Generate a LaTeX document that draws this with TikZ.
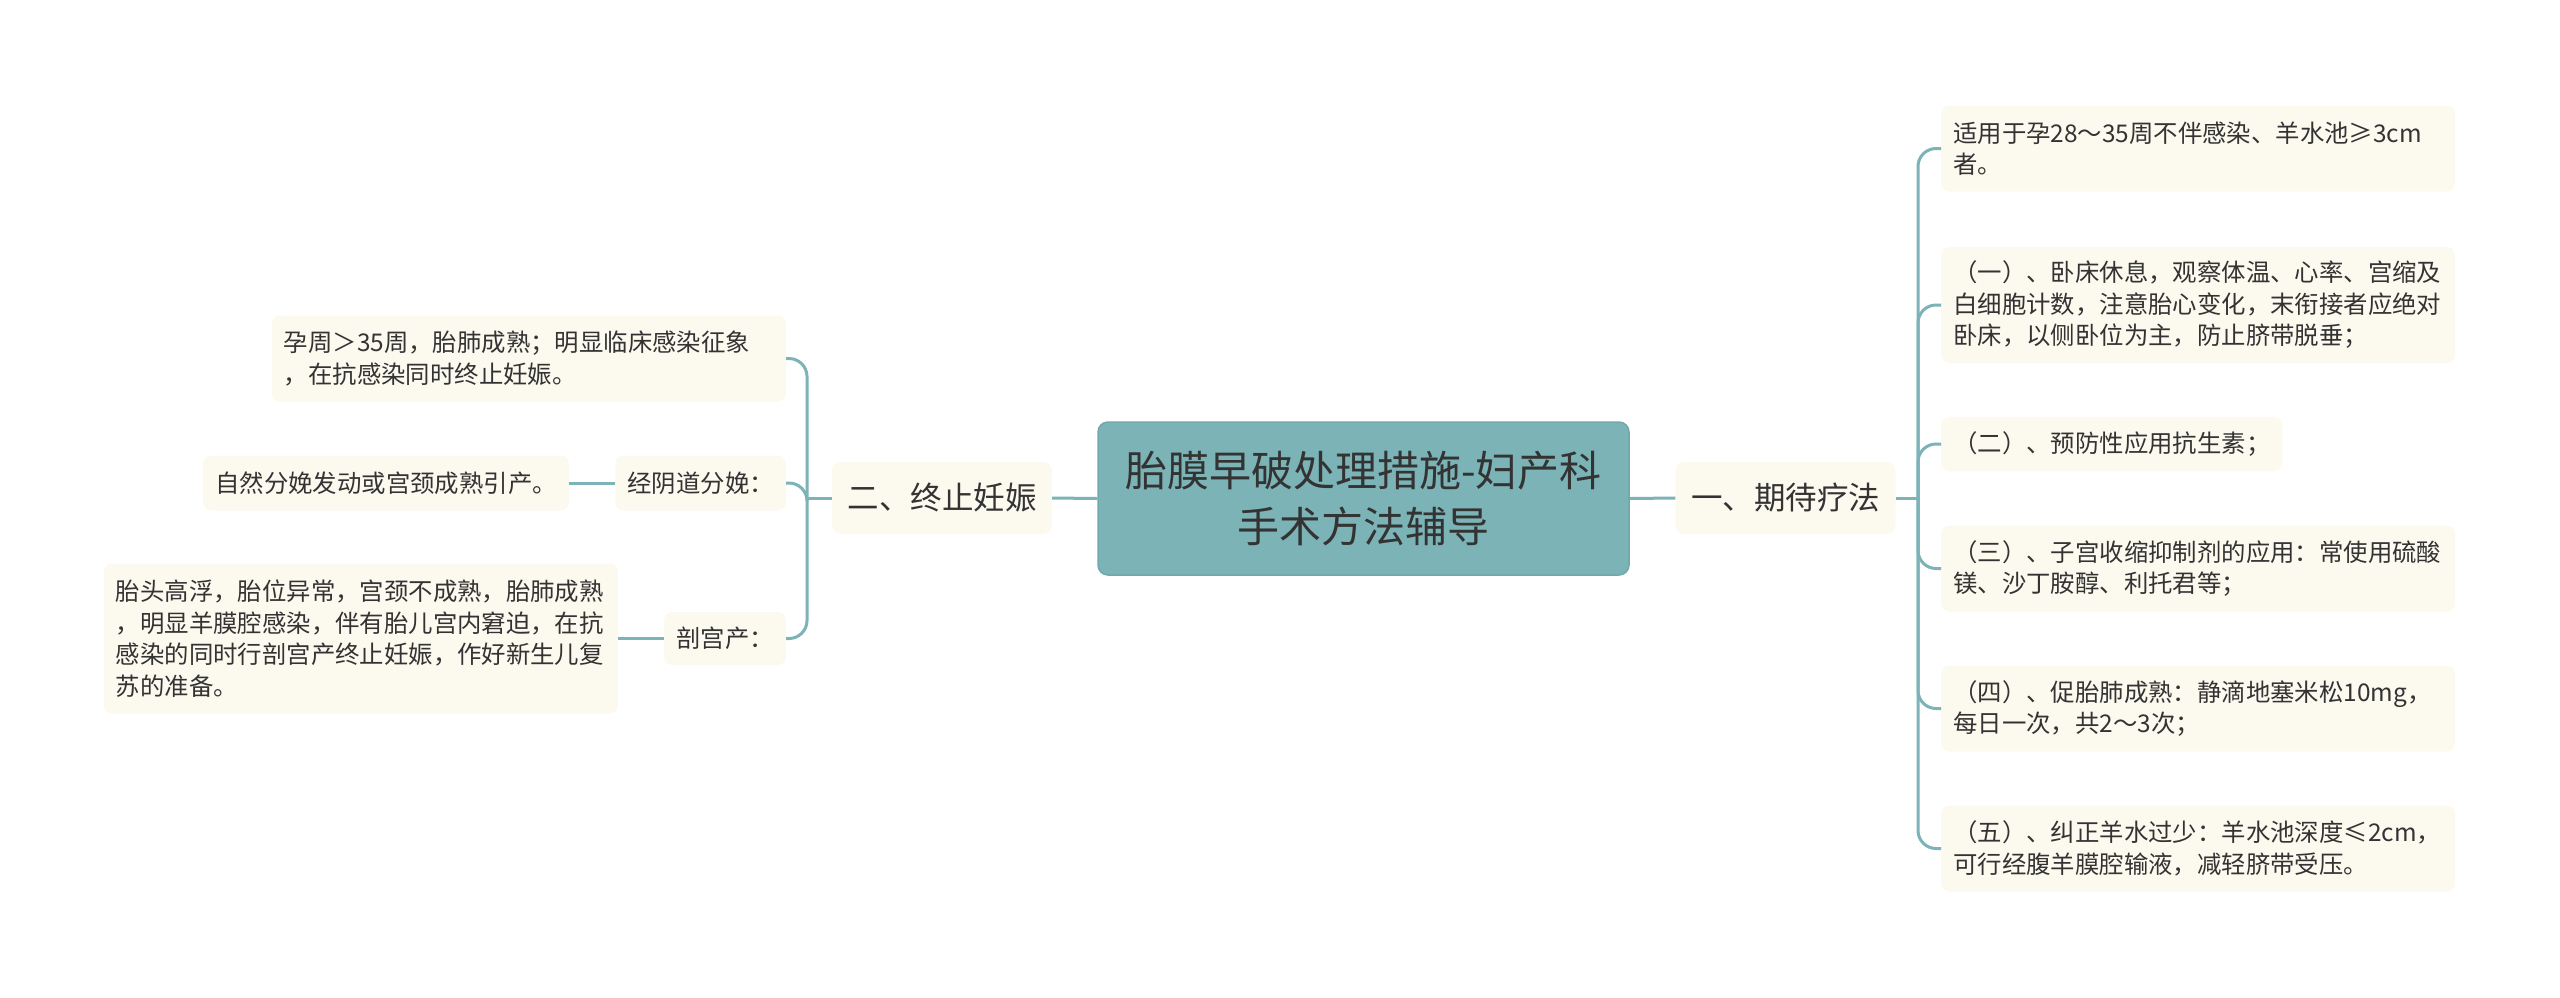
\documentclass[tikz,border=0pt]{standalone}
\usepackage{fontspec}
\setmainfont{Noto Sans CJK SC}
\definecolor{rootfill}{HTML}{7BB3B6}
\definecolor{rootline}{HTML}{6FA9AC}
\definecolor{cream}{HTML}{FCF9EF}
\definecolor{txt}{HTML}{333333}
\definecolor{conncol}{HTML}{7CB3B6}
\begin{document}
\begin{tikzpicture}[x=1pt,y=-1pt,
  leafbox/.style={fill=cream, rounded corners=8pt, inner xsep=12pt, inner ysep=0pt,
    align=left, text=txt, font=\fontsize{24.4}{31.5}\selectfont, minimum height=86pt},
  wide/.style={text width=490pt},
  rootbox/.style={fill=rootfill, draw=rootline, line width=1.5pt, rounded corners=10pt,
    minimum width=531pt, minimum height=153pt, align=center, text=txt,
    font=\fontsize{42}{56}\selectfont, inner sep=0pt},
  mainbox/.style={fill=cream, rounded corners=9pt, minimum width=220pt, minimum height=72pt,
    inner sep=0pt, text=txt, font=\fontsize{31.5}{38}\selectfont},
  conn/.style={draw=conncol, line width=3pt},
  curvedconn/.style={conn, rounded corners=18pt}
]
\useasboundingbox (0,0) rectangle (2560,997);

% root
\node[rootbox] (root) at (1363.5,498.5) {胎膜早破处理措施-妇产科\\手术方法辅导};

% main branches
\node[mainbox] (er) at (942,498) {二、终止妊娠};
\node[mainbox] (yi) at (1785.5,498) {一、期待疗法};

% right leaves
\node[leafbox, wide, anchor=west] (r1) at (1941,148.5) {适用于孕28～35周不伴感染、羊水池≥3cm\\者。};
\node[leafbox, wide, anchor=west, minimum height=116pt] (r2) at (1941,305) {（一）、卧床休息，观察体温、心率、宫缩及\\白细胞计数，注意胎心变化，末衔接者应绝对\\卧床，以侧卧位为主，防止脐带脱垂；};
\node[leafbox, anchor=west, minimum height=54pt] (r3) at (1941,444) {（二）、预防性应用抗生素；};
\node[leafbox, wide, anchor=west] (r4) at (1941,568.5) {（三）、子宫收缩抑制剂的应用：常使用硫酸\\镁、沙丁胺醇、利托君等；};
\node[leafbox, wide, anchor=west] (r5) at (1941,708.5) {（四）、促胎肺成熟：静滴地塞米松10mg，\\每日一次，共2～3次；};
\node[leafbox, wide, anchor=west] (r6) at (1941,848.5) {（五）、纠正羊水过少：羊水池深度≤2cm，\\可行经腹羊膜腔输液，减轻脐带受压。};

% left leaves
\node[leafbox, wide, anchor=east] (l1) at (786,358.5) {孕周＞35周，胎肺成熟；明显临床感染征象\\，在抗感染同时终止妊娠。};
\node[leafbox, anchor=east, minimum height=55pt] (l2) at (786,483) {经阴道分娩：};
\node[leafbox, anchor=east, minimum height=55pt] (l2c) at (569,483) {自然分娩发动或宫颈成熟引产。};
\node[leafbox, anchor=east, minimum height=53pt] (l3) at (786,638.5) {剖宫产：};
\node[leafbox, wide, anchor=east, minimum height=150pt] (l3c) at (618,638.5) {胎头高浮，胎位异常，宫颈不成熟，胎肺成熟\\，明显羊膜腔感染，伴有胎儿宫内窘迫，在抗\\感染的同时行剖宫产终止妊娠，作好新生儿复\\苏的准备。};

% junctions
\coordinate (rj) at (1918,498);
\coordinate (lj) at (807,498);

% connectors
\draw[conn] (root.west) -- (er.east);
\draw[conn] (root.east) -- (yi.west);
\draw[conn] (yi.east) -- (rj);
\draw[conn] (er.west) -- (lj);
\foreach \n in {r1,r2,r3,r4,r5,r6} \draw[curvedconn] (rj) |- (\n.west);
\foreach \n in {l1,l2,l3} \draw[curvedconn] (lj) |- (\n.east);
\draw[conn] (l2.west) -- (l2c.east);
\draw[conn] (l3.west) -- (l3c.east);
\end{tikzpicture}
\end{document}
